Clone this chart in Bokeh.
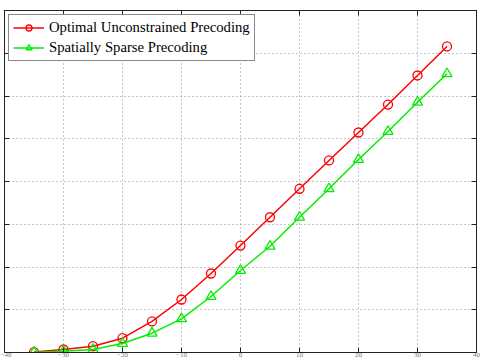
from bokeh.plotting import figure
from bokeh.models import LinearAxis, FixedTicker, Range1d, CustomLabelingPolicy
from bokeh.embed import file_html
from bokeh.resources import INLINE

# SNR sweep (dB) and achieved spectral efficiency (bits/s/Hz)
snr_db = [-35, -30, -25, -20, -15, -10, -5, 0, 5, 10, 15, 20, 25, 30, 35]
optimal_unconstrained = [0.05, 0.35, 0.74, 1.67, 3.63, 6.2, 9.24, 12.51,
                         15.82, 19.15, 22.46, 25.73, 29.0, 32.4, 35.8]
spatially_sparse = [0.02, 0.15, 0.35, 1.05, 2.26, 3.94, 6.55, 9.59,
                    12.43, 15.82, 19.15, 22.57, 25.85, 29.27, 32.6]

x_ticks = [-40, -30, -20, -10, 0, 10, 20, 30, 40]
y_ticks = [0, 5, 10, 15, 20, 25, 30, 35, 40]

SERIF = "Liberation Serif"
AXIS_COLOR = "#222222"


def hide_labels():
    # drop every tick label on an axis, keeping only its ticks
    return CustomLabelingPolicy(code="for (const i of indices) indices.unset(i)")


p = figure(width=480, height=359, x_range=Range1d(-40, 40), y_range=Range1d(0, 40),
           output_backend="svg", toolbar_location=None,
           min_border_left=2, min_border_right=2, min_border_top=10, min_border_bottom=0)
p.background_fill_color = "white"
p.border_fill_color = "white"
p.outline_line_color = AXIS_COLOR
p.outline_line_width = 1

# Bottom axis: inward ticks, small labels
p.xaxis.ticker = FixedTicker(ticks=x_ticks)
p.xaxis.major_tick_in = 5
p.xaxis.major_tick_out = 0
p.xaxis.minor_tick_in = 0
p.xaxis.minor_tick_out = 0
p.xaxis.major_label_text_font = SERIF
p.xaxis.major_label_text_font_size = "7px"
p.xaxis.major_label_text_color = "#777777"
p.xaxis.major_label_standoff = 0
p.xaxis.axis_line_color = AXIS_COLOR
p.xaxis.major_tick_line_color = AXIS_COLOR

# Left axis: inward ticks, no labels
p.yaxis.ticker = FixedTicker(ticks=y_ticks)
p.yaxis.major_tick_in = 5
p.yaxis.major_tick_out = 0
p.yaxis.minor_tick_in = 0
p.yaxis.minor_tick_out = 0
p.yaxis.major_label_text_font_size = "1px"
p.yaxis.major_label_policy = hide_labels()
p.yaxis.major_label_standoff = 0
p.yaxis.axis_line_color = AXIS_COLOR
p.yaxis.major_tick_line_color = AXIS_COLOR

# Mirror axes on top and right with inward ticks only
top_axis = LinearAxis(ticker=FixedTicker(ticks=x_ticks), major_tick_in=5, major_tick_out=0,
                      minor_tick_in=0, minor_tick_out=0, major_label_text_font_size="1px",
                      major_label_policy=hide_labels(),
                      major_label_standoff=0, axis_line_color=AXIS_COLOR,
                      major_tick_line_color=AXIS_COLOR)
right_axis = LinearAxis(ticker=FixedTicker(ticks=y_ticks), major_tick_in=5, major_tick_out=0,
                        minor_tick_in=0, minor_tick_out=0, major_label_text_font_size="1px",
                        major_label_policy=hide_labels(),
                        major_label_standoff=0, axis_line_color=AXIS_COLOR,
                        major_tick_line_color=AXIS_COLOR)
p.add_layout(top_axis, "above")
p.add_layout(right_axis, "right")

# Dotted grid
for g in (p.xgrid, p.ygrid):
    g.grid_line_color = "#8a8a8a"
    g.grid_line_dash = "1 3"
    g.grid_line_width = 1
p.xgrid.ticker = FixedTicker(ticks=x_ticks)
p.ygrid.ticker = FixedTicker(ticks=y_ticks)

RED = "#ff0000"
GREEN = "#00ee00"

lbl_opt = "Optimal Unconstrained Precoding"
lbl_sparse = "Spatially Sparse Precoding"

p.line(snr_db, optimal_unconstrained, line_color=RED, line_width=1.5, legend_label=lbl_opt)
p.scatter(snr_db, optimal_unconstrained, marker="circle", size=9, line_color=RED,
          line_width=1.3, fill_color=None, legend_label=lbl_opt)

p.line(snr_db, spatially_sparse, line_color=GREEN, line_width=1.5, legend_label=lbl_sparse)
p.scatter(snr_db, spatially_sparse, marker="triangle", size=10, line_color=GREEN,
          line_width=1.3, fill_color=None, legend_label=lbl_sparse)

leg = p.legend[0]
leg.location = "top_left"
leg.margin = 4
leg.padding = 4
leg.spacing = 3
leg.label_height = 15
leg.glyph_height = 15
leg.glyph_width = 31
leg.label_standoff = 5
leg.label_text_font = SERIF
leg.label_text_font_size = "14.7px"
leg.label_text_color = "black"
leg.border_line_color = "#111111"
leg.border_line_width = 1
leg.background_fill_color = "white"
leg.background_fill_alpha = 1.0

open("out.html", "w").write(file_html(p, INLINE))
